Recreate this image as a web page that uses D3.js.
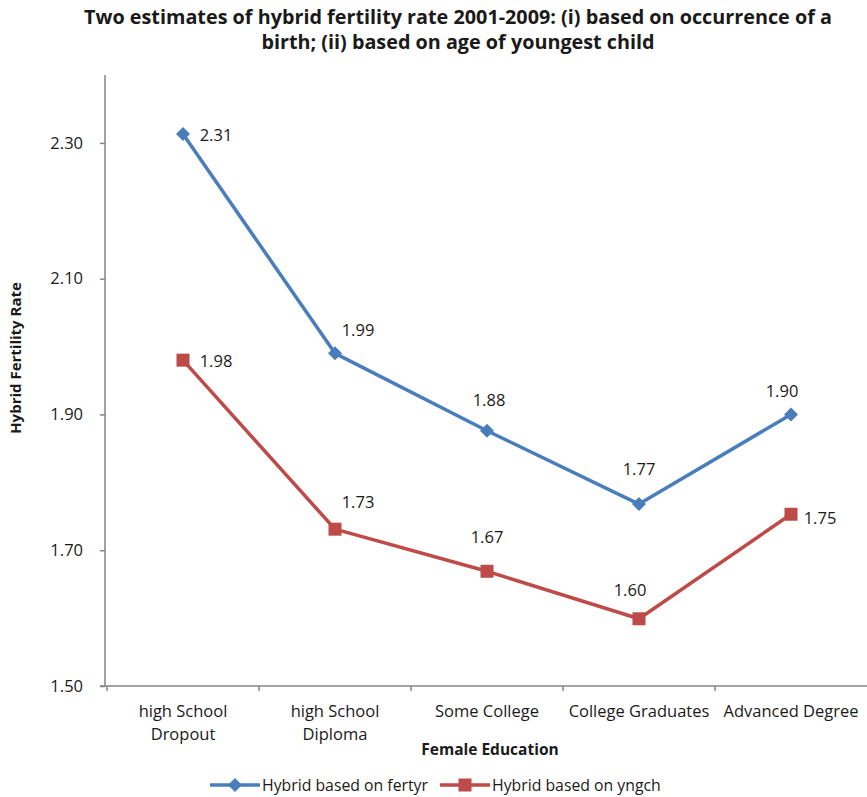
<!DOCTYPE html>
<html>
<head>
<meta charset="utf-8">
<script src="https://cdn.jsdelivr.net/npm/d3@7"></script>
<style>
  body { margin: 0; background: #fff; }
  svg { display: block; font-family: "Open Sans", "Noto Sans", sans-serif; }
</style>
</head>
<body>
<svg id="chart" width="867" height="797"></svg>
<script>
// Categories and series values
const categories = ["high School\nDropout", "high School\nDiploma", "Some College", "College Graduates", "Advanced Degree"];
const fertyr = [2.313, 1.99, 1.876, 1.768, 1.90];
const yngch = [1.98, 1.731, 1.669, 1.599, 1.753];
const yTicks = [1.50, 1.70, 1.90, 2.10, 2.30];
const seriesNames = ["Hybrid based on fertyr", "Hybrid based on yngch"];

// Label placement offsets (dx, dy) relative to each point
const fertyrLabelOffsets = [[33, 1], [23, -23], [2, -31], [0, -35], [-9, -23]];
const yngchLabelOffsets = [[33, 1], [23, -27], [0, -34], [-9, -29], [29, 4]];

const svg = d3.select("#chart");
const gray = "#868686";
const textColor = "#1a1a1a";
const tickFont = 16.5;

const x = d3.scaleBand().domain(d3.range(categories.length)).range([107, 867]);
const y = d3.scaleLinear().domain([1.5, 2.4]).range([686, 75]);

// Title
svg.append("text")
  .attr("text-anchor", "middle")
  .attr("font-weight", "bold").attr("font-size", 19.8).attr("fill", textColor)
  .selectAll("tspan")
  .data(["Two estimates of hybrid fertility rate 2001-2009: (i) based on occurrence of a", "birth; (ii) based on age of youngest child"])
  .join("tspan").attr("x", 458).attr("y", (d, i) => 24 + i * 25).text(d => d);

// Y axis
const yAxis = svg.append("g").attr("transform", "translate(105,0)")
  .call(d3.axisLeft(y).tickValues(yTicks).tickFormat(d3.format(".2f")).tickSize(5).tickPadding(17));
yAxis.select(".domain").attr("d", `M0,${y(2.4)}V${y(1.5)}`);
yAxis.selectAll("path, line").attr("stroke", gray).attr("stroke-width", 1.5);
yAxis.selectAll("text").attr("font-size", tickFont).attr("fill", textColor).attr("font-family", "Open Sans, sans-serif");

// X axis
const xAxisG = svg.append("g").attr("transform", "translate(0,686)");
xAxisG.append("line").attr("x1", 100).attr("x2", 867).attr("y1", 0).attr("y2", 0)
  .attr("stroke", gray).attr("stroke-width", 1.5);
const tickXs = d3.range(categories.length).map(i => x(i));
xAxisG.selectAll("line.tick").data(tickXs).join("line").attr("class", "tick")
  .attr("x1", d => d).attr("x2", d => d).attr("y1", 0).attr("y2", 5)
  .attr("stroke", gray).attr("stroke-width", 1.5);
xAxisG.selectAll("text.cat").data(categories).join("text").attr("class", "cat")
  .attr("text-anchor", "middle").attr("font-size", tickFont).attr("fill", textColor)
  .each(function(d, i) {
    const lines = d.split("\n");
    d3.select(this).selectAll("tspan").data(lines).join("tspan")
      .attr("x", x(i) + x.bandwidth() / 2)
      .attr("y", (l, j) => 31 + j * 23)
      .text(l => l);
  });

// Axis titles
svg.append("text").attr("x", 490).attr("y", 755).attr("text-anchor", "middle")
  .attr("font-weight", "bold").attr("font-size", 15.5).attr("fill", textColor).text("Female Education");
svg.append("text").attr("transform", "translate(21,358) rotate(-90)").attr("text-anchor", "middle")
  .attr("font-weight", "bold").attr("font-size", 15).attr("fill", textColor).text("Hybrid Fertility Rate");

const cx = i => x(i) + x.bandwidth() / 2;
const line = d3.line().x((d, i) => cx(i)).y(d => y(d));

const series = [
  { values: fertyr, color: "#4A7EBB", shape: "diamond", offsets: fertyrLabelOffsets },
  { values: yngch, color: "#BE4B48", shape: "square", offsets: yngchLabelOffsets }
];

function drawMarker(g, shape, color) {
  if (shape === "diamond") {
    g.append("path").attr("d", "M0,-7L7,0L0,7L-7,0Z").attr("fill", color);
  } else {
    g.append("rect").attr("x", -6.5).attr("y", -6.5).attr("width", 13).attr("height", 13).attr("fill", color);
  }
}

series.forEach(s => {
  svg.append("path").datum(s.values).attr("d", line)
    .attr("fill", "none").attr("stroke", s.color).attr("stroke-width", 3.5).attr("stroke-linejoin", "round");
  s.values.forEach((v, i) => {
    const g = svg.append("g").attr("transform", `translate(${cx(i)},${y(v)})`);
    drawMarker(g, s.shape, s.color);
  });
  svg.selectAll(null).data(s.values).join("text")
    .attr("x", (d, i) => cx(i) + s.offsets[i][0])
    .attr("y", (d, i) => y(d) + s.offsets[i][1] + 6)
    .attr("text-anchor", "middle").attr("font-size", tickFont).attr("fill", textColor)
    .text(d => d3.format(".2f")(d));
});

// Legend
const legendItems = [
  { name: seriesNames[0], color: "#4A7EBB", shape: "diamond", x0: 210 },
  { name: seriesNames[1], color: "#BE4B48", shape: "square", x0: 440 }
];
legendItems.forEach(item => {
  const g = svg.append("g").attr("transform", `translate(${item.x0},785)`);
  g.append("line").attr("x1", 0).attr("x2", 50).attr("stroke", item.color).attr("stroke-width", 3.5);
  const m = g.append("g").attr("transform", "translate(25,0)");
  drawMarker(m, item.shape, item.color);
  g.append("text").attr("x", 52).attr("y", 6).attr("font-size", 15.8).attr("fill", textColor).text(item.name);
});
</script>
</body>
</html>
